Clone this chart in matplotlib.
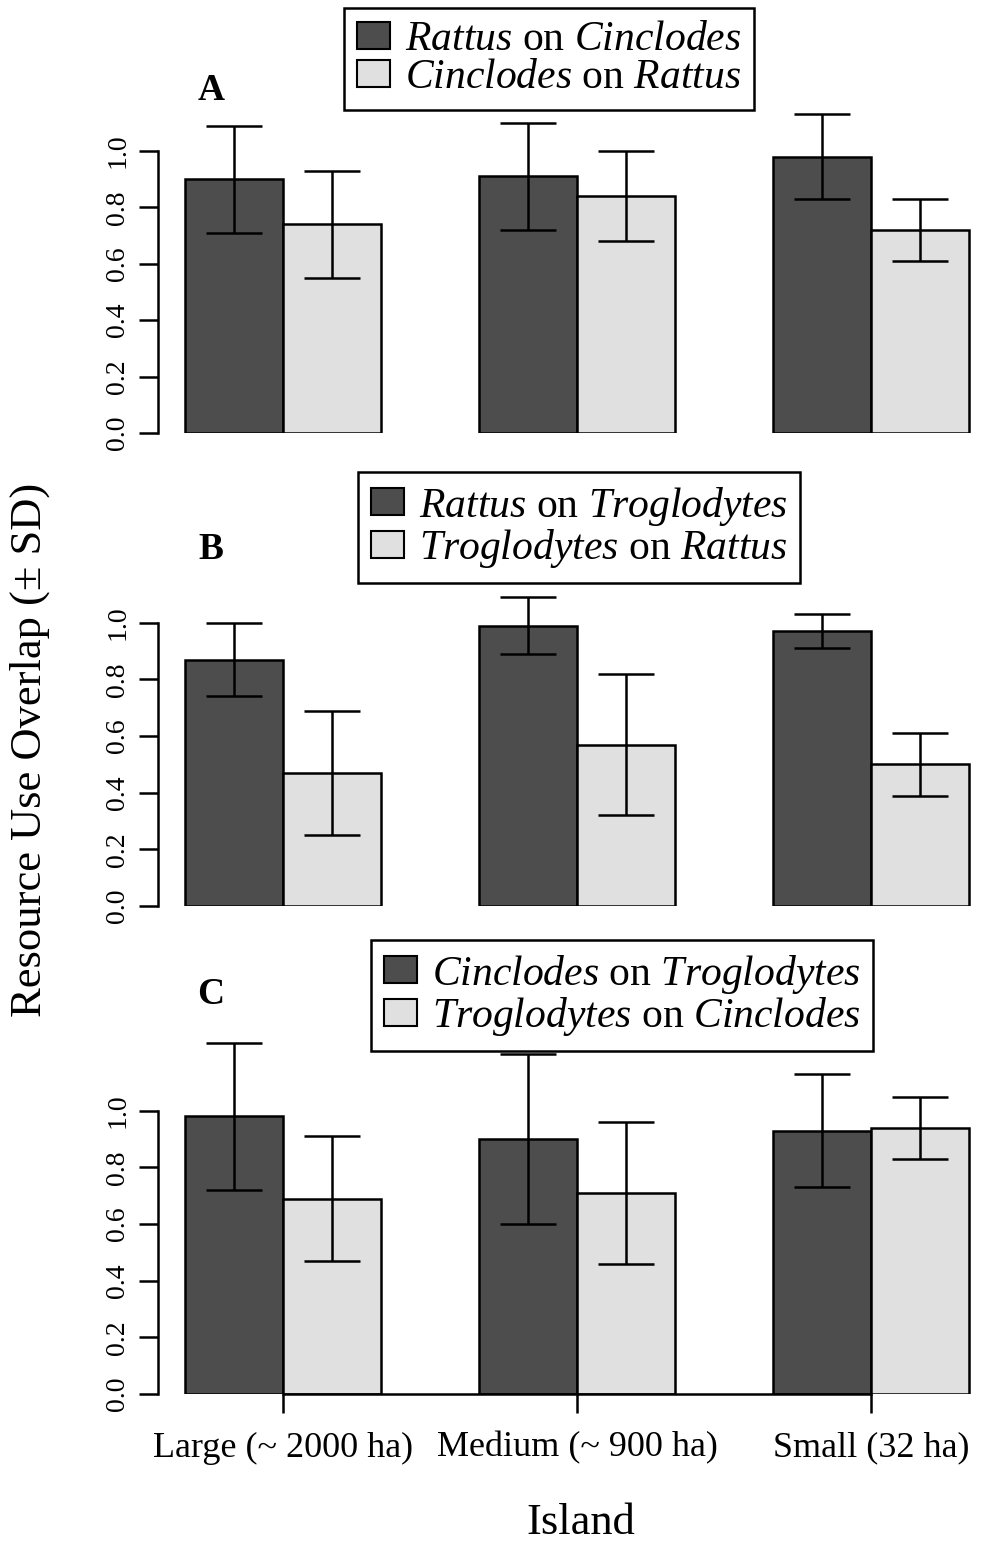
import matplotlib
matplotlib.use("Agg")
import matplotlib.pyplot as plt
import numpy as np
from matplotlib.patches import Patch

plt.rcParams["font.family"] = ["Liberation Serif", "DejaVu Serif"]
plt.rcParams["mathtext.fontset"] = "custom"
plt.rcParams["mathtext.rm"] = "Liberation Serif"
plt.rcParams["mathtext.it"] = "Liberation Serif:italic"

# data (mean overlap and SD per island)
islands = ["Large (~ 2000 ha)", "Medium (~ 900 ha)", "Small (32 ha)"]

a_first = [0.90, 0.91, 0.98]
a_first_sd = [0.19, 0.19, 0.15]
a_second = [0.74, 0.84, 0.72]
a_second_sd = [0.19, 0.16, 0.11]

b_first = [0.87, 0.99, 0.97]
b_first_sd = [0.13, 0.10, 0.06]
b_second = [0.47, 0.57, 0.50]
b_second_sd = [0.22, 0.25, 0.11]

c_first = [0.98, 0.90, 0.93]
c_first_sd = [0.26, 0.30, 0.20]
c_second = [0.69, 0.71, 0.94]
c_second_sd = [0.22, 0.25, 0.11]

a_legend = [r"$\mathit{Rattus}$ on $\mathit{Cinclodes}$",
            r"$\mathit{Cinclodes}$ on $\mathit{Rattus}$"]
b_legend = [r"$\mathit{Rattus}$ on $\mathit{Troglodytes}$",
            r"$\mathit{Troglodytes}$ on $\mathit{Rattus}$"]
c_legend = [r"$\mathit{Cinclodes}$ on $\mathit{Troglodytes}$",
            r"$\mathit{Troglodytes}$ on $\mathit{Cinclodes}$"]

dark = "#4d4d4d"
light = "#e0e0e0"

W, H = 989, 1544
fig = plt.figure(figsize=(W / 100, H / 100), dpi=100)

# R barplot style positions: two bars per group, one bar gap between groups
centers = np.arange(3) * 3 + 2.0
x_dark = centers - 0.5
x_light = centers + 0.5

# (zero line px, px per unit, legend top px, legend centre px, letter y px)
panels = [
    (a_first, a_first_sd, a_second, a_second_sd, a_legend, "A", 433, 282.0, 8, 549, 91),
    (b_first, b_first_sd, b_second, b_second_sd, b_legend, "B", 906, 283.3, 472, 579, 550),
    (c_first, c_first_sd, c_second, c_second_sd, c_legend, "C", 1394, 283.3, 940, 622, 995),
]

lw = 1.8
ytop = 1.3
for i, (v1, s1, v2, s2, labs, letter, zero, ppu, ltop, lcx, ly) in enumerate(panels):
    ax = fig.add_axes([158 / W, (H - zero) / H, 831 / W, ytop * ppu / H])
    ax.patch.set_visible(False)
    ax.bar(x_dark, v1, width=1, color=dark, edgecolor="black", linewidth=lw)
    ax.bar(x_light, v2, width=1, color=light, edgecolor="black", linewidth=lw)
    ax.errorbar(x_dark, v1, yerr=s1, fmt="none", ecolor="black",
                elinewidth=lw, capsize=20, capthick=lw)
    ax.errorbar(x_light, v2, yerr=s2, fmt="none", ecolor="black",
                elinewidth=lw, capsize=20, capthick=lw)
    ax.set_xlim(0.725, 9.2)
    ax.set_ylim(0, ytop)

    for sp in ["top", "right"]:
        ax.spines[sp].set_visible(False)
    ax.spines["left"].set_bounds(0, 1)
    ax.spines["left"].set_linewidth(lw)
    ax.set_yticks(np.arange(0, 1.01, 0.2))
    ax.set_yticklabels(["%.1f" % t for t in np.arange(0, 1.01, 0.2)],
                       rotation=90, va="center")
    ax.tick_params(axis="y", length=14, width=lw, pad=6, labelsize=20)

    if i == 2:
        ax.spines["bottom"].set_bounds(centers[0], centers[-1])
        ax.spines["bottom"].set_linewidth(lw)
        ax.set_xticks(centers)
        ax.set_xticklabels(islands)
        ax.tick_params(axis="x", length=14, width=lw, pad=13, labelsize=26)
    else:
        ax.spines["bottom"].set_visible(False)
        ax.set_xticks([])

    handles = [Patch(facecolor=dark, edgecolor="black", linewidth=1.5),
               Patch(facecolor=light, edgecolor="black", linewidth=1.5)]
    leg = fig.legend(handles, labs, loc="upper center",
                     bbox_to_anchor=(lcx / W, 1 - ltop / H),
                     bbox_transform=fig.transFigure, borderaxespad=0,
                     fontsize=30, handlelength=0.8, handleheight=0.63,
                     handletextpad=0.35, labelspacing=0.0, borderpad=0.3,
                     fancybox=False, framealpha=1, edgecolor="black")
    leg.get_frame().set_linewidth(lw)

    fig.text(211 / W, 1 - ly / H, letter, fontsize=27, fontweight="bold",
             ha="center", va="center")

fig.text(30 / W, 1 - 750 / H, "Resource Use Overlap (\u00b1 SD)", rotation=90,
         fontsize=32, ha="center", va="center")
fig.text(581 / W, 1 - 1523 / H, "Island", fontsize=32, ha="center", va="center")

fig.savefig("out.png", dpi=100)
